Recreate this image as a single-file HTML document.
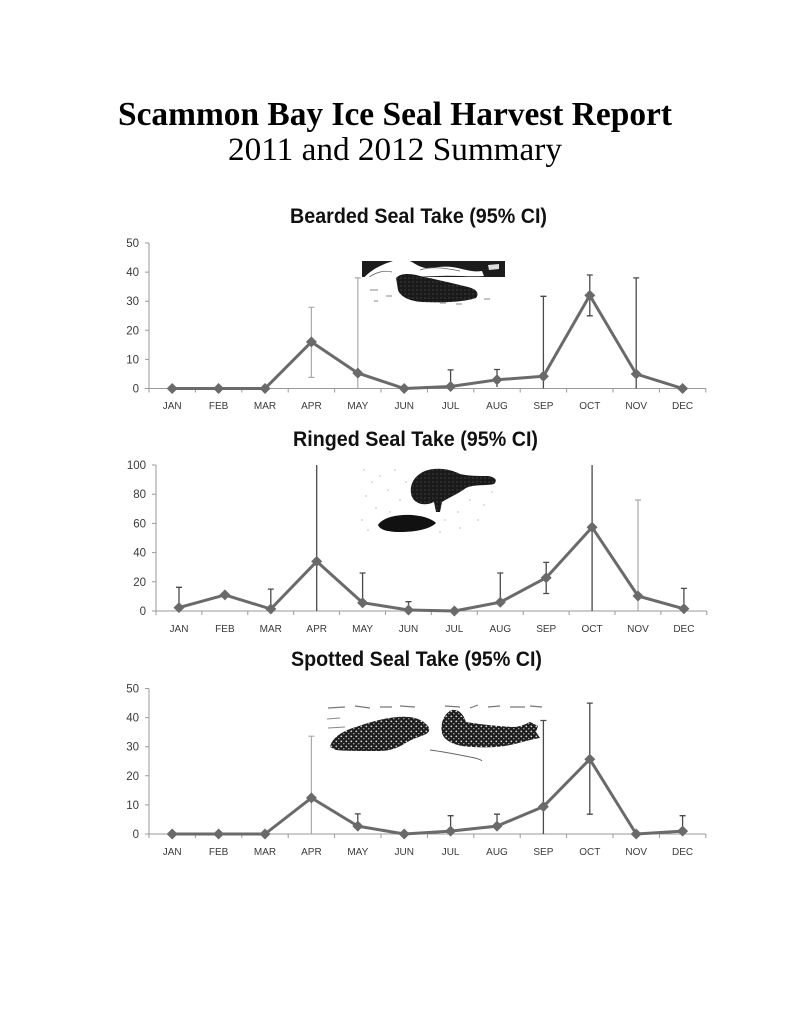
<!DOCTYPE html>
<html><head><meta charset="utf-8"><style>
html,body{margin:0;padding:0;background:#fff;}
svg{display:block;}
.ax{stroke:#9a9a9a;stroke-width:1;fill:none;}
.yl{font-family:"Liberation Sans",sans-serif;font-size:11.5px;fill:#3a3a3a;text-anchor:end;}
.ml{font-family:"Liberation Sans",sans-serif;font-size:10px;fill:#3a3a3a;text-anchor:middle;}
.ct{font-family:"Liberation Sans",sans-serif;font-size:21px;font-weight:bold;fill:#111;}
.ser{stroke:#6a6a6a;stroke-width:3;fill:none;stroke-linejoin:round;}
.mk{fill:#6a6a6a;}
.ed{stroke:#4a4a4a;stroke-width:1.3;fill:none;}
.el{stroke:#ababab;stroke-width:1.2;fill:none;}
</style></head><body>
<svg width="791" height="1024" viewBox="0 0 791 1024" xmlns="http://www.w3.org/2000/svg">
<defs>
<pattern id="spots" width="5" height="5" patternUnits="userSpaceOnUse">
<rect width="5" height="5" fill="#1e1e1e"/>
<circle cx="1.3" cy="1.4" r="0.9" fill="#ddd"/>
<circle cx="3.8" cy="3.7" r="0.7" fill="#bbb"/>
</pattern>
<pattern id="grain" width="4" height="4" patternUnits="userSpaceOnUse">
<rect width="4" height="4" fill="#1a1a1a"/>
<circle cx="1" cy="2" r="0.5" fill="#777"/>
</pattern>
</defs>
<rect width="791" height="1024" fill="#fff"/>

<!-- Main titles -->
<text x="118" y="125" font-family="'Liberation Serif',serif" font-size="33.5" font-weight="bold" fill="#000" textLength="554" lengthAdjust="spacingAndGlyphs">Scammon Bay Ice Seal Harvest Report</text>
<text x="228" y="160" font-family="'Liberation Serif',serif" font-size="33" fill="#000" textLength="334" lengthAdjust="spacingAndGlyphs">2011 and 2012 Summary</text>

<!-- ============ CHART 1: Bearded ============ -->
<text class="ct" x="290" y="223" textLength="257" lengthAdjust="spacingAndGlyphs">Bearded Seal Take (95% CI)</text>

<!-- bearded seal picture -->
<g>
<rect x="362" y="261" width="143" height="16" fill="#1c1c1c"/>
<path d="M362,280 C368,272 378,266 390,262 C398,259 406,259 412,262 C418,266 424,269 432,268 C442,266 452,266 462,269 C470,271 476,272 482,271 L484,276 C470,277 452,275 438,276 C420,277 400,276 380,280 Z" fill="#fff"/>
<path d="M368,278 C376,272 384,270 392,272" stroke="#666" stroke-width="0.8" fill="none"/>
<path d="M420,270 C432,266 445,268 460,271" stroke="#666" stroke-width="0.8" fill="none"/>
<path d="M488,265 L499,264 L499,269 L489,270 Z" fill="#ddd"/>
<rect x="362" y="277" width="143" height="2" fill="#fff"/>
<path d="M396,278 C400,273 410,273 420,276 C434,279 452,283 468,287 C476,289 480,293 476,298 C464,302 442,303 422,302 C408,301 400,296 398,290 Z" fill="url(#grain)"/>
<path d="M370,290 L378,290 M386,296 L392,296 M440,303 L446,303 M456,304 L462,304 M484,299 L490,299 M374,301 L378,301" stroke="#888" stroke-width="1"/>
</g>

<line class="ax" x1="149" y1="243" x2="149" y2="388.5"/>
<path class="ax" d="M145,388.5H149M145,359.4H149M145,330.3H149M145,301.2H149M145,272.1H149M145,243H149"/>
<text class="yl" x="139" y="392.5">0</text>
<text class="yl" x="139" y="363.4">10</text>
<text class="yl" x="139" y="334.3">20</text>
<text class="yl" x="139" y="305.2">30</text>
<text class="yl" x="139" y="276.1">40</text>
<text class="yl" x="139" y="247">50</text>
<line class="ax" x1="149" y1="388.5" x2="705.8" y2="388.5"/>
<path class="ax" d="M149,388.5V392.5M195.4,388.5V392.5M241.8,388.5V392.5M288.2,388.5V392.5M334.6,388.5V392.5M381,388.5V392.5M427.4,388.5V392.5M473.8,388.5V392.5M520.2,388.5V392.5M566.6,388.5V392.5M613,388.5V392.5M659.4,388.5V392.5M705.8,388.5V392.5"/>
<g class="ml">
<text x="172.2" y="409">JAN</text><text x="218.6" y="409">FEB</text><text x="265" y="409">MAR</text><text x="311.4" y="409">APR</text><text x="357.8" y="409">MAY</text><text x="404.2" y="409">JUN</text><text x="450.6" y="409">JUL</text><text x="497" y="409">AUG</text><text x="543.4" y="409">SEP</text><text x="589.8" y="409">OCT</text><text x="636.2" y="409">NOV</text><text x="682.6" y="409">DEC</text>
</g>
<!-- error bars -->
<path class="el" d="M311.4,377.4V307.3M308.4,307.3H314.4M308.4,377.4H314.4"/>
<path class="el" d="M357.8,388.5V277.9M354.8,277.9H360.8"/>
<path class="ed" d="M450.6,386.5V369.9M447.6,369.9H453.6"/>
<path class="ed" d="M497,387V369.5M494,369.5H500"/>
<path class="ed" d="M543.4,388.5V296.3M540.4,296.3H546.4"/>
<path class="ed" d="M589.8,315.8V275M586.8,275H592.8M586.8,315.8H592.8"/>
<path class="ed" d="M636.2,388.5V277.9M633.2,277.9H639.2"/>
<polyline class="ser" points="172.2,388.5 218.6,388.5 265,388.5 311.4,341.9 357.8,373.1 404.2,388.5 450.6,386.5 497,379.8 543.4,376.3 589.8,295.4 636.2,374 682.6,388.5"/>
<g class="mk">
<path d="M172.2,383L177.7,388.5L172.2,394L166.7,388.5Z"/>
<path d="M218.6,383L224.1,388.5L218.6,394L213.1,388.5Z"/>
<path d="M265,383L270.5,388.5L265,394L259.5,388.5Z"/>
<path d="M311.4,336.4L316.9,341.9L311.4,347.4L305.9,341.9Z"/>
<path d="M357.8,367.6L363.3,373.1L357.8,378.6L352.3,373.1Z"/>
<path d="M404.2,383L409.7,388.5L404.2,394L398.7,388.5Z"/>
<path d="M450.6,381L456.1,386.5L450.6,392L445.1,386.5Z"/>
<path d="M497,374.3L502.5,379.8L497,385.3L491.5,379.8Z"/>
<path d="M543.4,370.8L548.9,376.3L543.4,381.8L537.9,376.3Z"/>
<path d="M589.8,289.9L595.3,295.4L589.8,300.9L584.3,295.4Z"/>
<path d="M636.2,368.5L641.7,374L636.2,379.5L630.7,374Z"/>
<path d="M682.6,383L688.1,388.5L682.6,394L677.1,388.5Z"/>
</g>

<!-- ============ CHART 2: Ringed ============ -->
<text class="ct" x="293" y="446" textLength="245" lengthAdjust="spacingAndGlyphs">Ringed Seal Take (95% CI)</text>

<!-- ringed seal picture -->
<g>
<g fill="#999">
<circle cx="364" cy="470" r="0.6"/><circle cx="372" cy="482" r="0.6"/><circle cx="366" cy="496" r="0.6"/><circle cx="380" cy="476" r="0.6"/><circle cx="388" cy="490" r="0.6"/><circle cx="395" cy="470" r="0.6"/><circle cx="400" cy="500" r="0.6"/><circle cx="376" cy="508" r="0.6"/><circle cx="362" cy="520" r="0.6"/><circle cx="368" cy="530" r="0.6"/><circle cx="445" cy="520" r="0.6"/><circle cx="458" cy="512" r="0.6"/><circle cx="470" cy="500" r="0.6"/><circle cx="484" cy="505" r="0.6"/><circle cx="492" cy="492" r="0.6"/><circle cx="478" cy="520" r="0.6"/><circle cx="460" cy="528" r="0.6"/><circle cx="440" cy="532" r="0.6"/><circle cx="390" cy="512" r="0.6"/><circle cx="406" cy="482" r="0.6"/>
</g>
<path d="M412,497 C408,486 414,474 428,470 C440,467 452,470 460,474 C468,476 478,476 488,476 C495,477 498,480 494,484 C486,486 474,484 466,488 C458,494 448,498 442,502 L440,512 L436,512 L434,502 C426,506 416,505 412,497 Z" fill="url(#grain)"/>
<path d="M378,525 C382,518 396,514 412,515 C424,516 432,519 436,523 C430,529 416,532 400,532 C388,532 380,530 378,525 Z" fill="#111"/>
</g>

<line class="ax" x1="156" y1="465" x2="156" y2="611"/>
<path class="ax" d="M152,611H156M152,581.8H156M152,552.6H156M152,523.4H156M152,494.2H156M152,465H156"/>
<text class="yl" x="146" y="615">0</text>
<text class="yl" x="146" y="585.8">20</text>
<text class="yl" x="146" y="556.6">40</text>
<text class="yl" x="146" y="527.4">60</text>
<text class="yl" x="146" y="498.2">80</text>
<text class="yl" x="146" y="469">100</text>
<line class="ax" x1="156" y1="611" x2="706.8" y2="611"/>
<path class="ax" d="M156,611V615M201.9,611V615M247.8,611V615M293.7,611V615M339.6,611V615M385.5,611V615M431.4,611V615M477.3,611V615M523.2,611V615M569.1,611V615M615,611V615M660.9,611V615M706.8,611V615"/>
<g class="ml">
<text x="179" y="632">JAN</text><text x="224.9" y="632">FEB</text><text x="270.8" y="632">MAR</text><text x="316.7" y="632">APR</text><text x="362.6" y="632">MAY</text><text x="408.5" y="632">JUN</text><text x="454.4" y="632">JUL</text><text x="500.3" y="632">AUG</text><text x="546.2" y="632">SEP</text><text x="592.1" y="632">OCT</text><text x="638" y="632">NOV</text><text x="683.9" y="632">DEC</text>
</g>
<path class="ed" d="M179,607.6V587.3M176,587.3H182"/>
<path class="ed" d="M270.8,609V589.1M267.8,589.1H273.8"/>
<path class="ed" d="M316.7,611V465"/>
<path class="ed" d="M362.6,602.7V573M359.6,573H365.6"/>
<path class="ed" d="M408.5,610V601.7M405.5,601.7H411.5"/>
<path class="ed" d="M500.3,602.2V573M497.3,573H503.3"/>
<path class="ed" d="M546.2,593.5V562.4M543.2,562.4H549.2M543.2,593.5H549.2"/>
<path class="ed" d="M592.1,611V465"/>
<path class="el" d="M638,611V500M635,500H641"/>
<path class="ed" d="M683.9,608.8V588.4M680.9,588.4H686.9"/>
<polyline class="ser" points="179,607.6 224.9,594.9 270.8,609 316.7,561.4 362.6,602.7 408.5,610 454.4,611 500.3,602.2 546.2,577.7 592.1,527.3 638,596 683.9,608.8"/>
<g class="mk">
<path d="M179,602.1L184.5,607.6L179,613.1L173.5,607.6Z"/>
<path d="M224.9,589.4L230.4,594.9L224.9,600.4L219.4,594.9Z"/>
<path d="M270.8,603.5L276.3,609L270.8,614.5L265.3,609Z"/>
<path d="M316.7,555.9L322.2,561.4L316.7,566.9L311.2,561.4Z"/>
<path d="M362.6,597.2L368.1,602.7L362.6,608.2L357.1,602.7Z"/>
<path d="M408.5,604.5L414,610L408.5,615.5L403,610Z"/>
<path d="M454.4,605.5L459.9,611L454.4,616.5L448.9,611Z"/>
<path d="M500.3,596.7L505.8,602.2L500.3,607.7L494.8,602.2Z"/>
<path d="M546.2,572.2L551.7,577.7L546.2,583.2L540.7,577.7Z"/>
<path d="M592.1,521.8L597.6,527.3L592.1,532.8L586.6,527.3Z"/>
<path d="M638,590.5L643.5,596L638,601.5L632.5,596Z"/>
<path d="M683.9,603.3L689.4,608.8L683.9,614.3L678.4,608.8Z"/>
</g>

<!-- ============ CHART 3: Spotted ============ -->
<text class="ct" x="291" y="666" textLength="251" lengthAdjust="spacingAndGlyphs">Spotted Seal Take (95% CI)</text>

<!-- spotted seal picture -->
<g>
<path d="M328,708 L345,707 M355,706 L370,708 M380,707 L392,707 M400,706 L415,707 M445,706 L460,707 M470,708 L478,705 M488,707 L500,706 M510,707 L525,707 M530,706 L542,707" stroke="#777" stroke-width="1.2"/>
<path d="M327,719 L340,718 M328,728 L345,727 M470,730 L490,731 M500,741 L520,742" stroke="#888" stroke-width="0.9"/>
<path d="M330,747 C332,738 342,731 356,727 C370,722 384,718 398,717 C410,716 420,718 426,724 C431,728 430,733 424,735 C416,738 410,740 404,744 C396,749 388,751 378,751 C362,751 346,751 336,750 Z" fill="url(#spots)"/>
<path d="M430,750 C445,752 460,755 470,757 C476,758 480,759 482,761" stroke="#666" stroke-width="0.9" fill="none"/>
<path d="M442,733 C440,724 444,713 452,710 C460,709 464,716 466,722 C478,724 496,726 512,727 C520,727 526,724 530,722 L538,726 L536,732 L540,738 C528,740 520,743 510,745 C496,748 476,748 462,746 C452,744 444,740 442,733 Z" fill="url(#spots)"/>
</g>

<line class="ax" x1="149" y1="688.5" x2="149" y2="834"/>
<path class="ax" d="M145,834H149M145,804.9H149M145,775.8H149M145,746.7H149M145,717.6H149M145,688.5H149"/>
<text class="yl" x="139" y="838">0</text>
<text class="yl" x="139" y="808.9">10</text>
<text class="yl" x="139" y="779.8">20</text>
<text class="yl" x="139" y="750.7">30</text>
<text class="yl" x="139" y="721.6">40</text>
<text class="yl" x="139" y="692.5">50</text>
<line class="ax" x1="149" y1="834" x2="705.8" y2="834"/>
<path class="ax" d="M149,834V838M195.4,834V838M241.8,834V838M288.2,834V838M334.6,834V838M381,834V838M427.4,834V838M473.8,834V838M520.2,834V838M566.6,834V838M613,834V838M659.4,834V838M705.8,834V838"/>
<g class="ml">
<text x="172.2" y="855">JAN</text><text x="218.6" y="855">FEB</text><text x="265" y="855">MAR</text><text x="311.4" y="855">APR</text><text x="357.8" y="855">MAY</text><text x="404.2" y="855">JUN</text><text x="450.6" y="855">JUL</text><text x="497" y="855">AUG</text><text x="543.4" y="855">SEP</text><text x="589.8" y="855">OCT</text><text x="636.2" y="855">NOV</text><text x="682.6" y="855">DEC</text>
</g>
<path class="el" d="M311.4,834V736.2M308.4,736.2H314.4"/>
<path class="ed" d="M357.8,826.1V813.9M354.8,813.9H360.8"/>
<path class="ed" d="M450.6,831.1V815.7M447.6,815.7H453.6"/>
<path class="ed" d="M497,826.1V814.2M494,814.2H500"/>
<path class="ed" d="M543.4,834V720.5M540.4,720.5H546.4"/>
<path class="ed" d="M589.8,814.2V703.1M586.8,703.1H592.8M586.8,814.2H592.8"/>
<path class="ed" d="M682.6,831.1V815.7M679.6,815.7H685.6"/>
<polyline class="ser" points="172.2,834 218.6,834 265,834 311.4,797.9 357.8,826.1 404.2,834 450.6,831.1 497,826.1 543.4,806.6 589.8,759.2 636.2,834 682.6,831.1"/>
<g class="mk">
<path d="M172.2,828.5L177.7,834L172.2,839.5L166.7,834Z"/>
<path d="M218.6,828.5L224.1,834L218.6,839.5L213.1,834Z"/>
<path d="M265,828.5L270.5,834L265,839.5L259.5,834Z"/>
<path d="M311.4,792.4L316.9,797.9L311.4,803.4L305.9,797.9Z"/>
<path d="M357.8,820.6L363.3,826.1L357.8,831.6L352.3,826.1Z"/>
<path d="M404.2,828.5L409.7,834L404.2,839.5L398.7,834Z"/>
<path d="M450.6,825.6L456.1,831.1L450.6,836.6L445.1,831.1Z"/>
<path d="M497,820.6L502.5,826.1L497,831.6L491.5,826.1Z"/>
<path d="M543.4,801.1L548.9,806.6L543.4,812.1L537.9,806.6Z"/>
<path d="M589.8,753.7L595.3,759.2L589.8,764.7L584.3,759.2Z"/>
<path d="M636.2,828.5L641.7,834L636.2,839.5L630.7,834Z"/>
<path d="M682.6,825.6L688.1,831.1L682.6,836.6L677.1,831.1Z"/>
</g>
</svg>
</body></html>
